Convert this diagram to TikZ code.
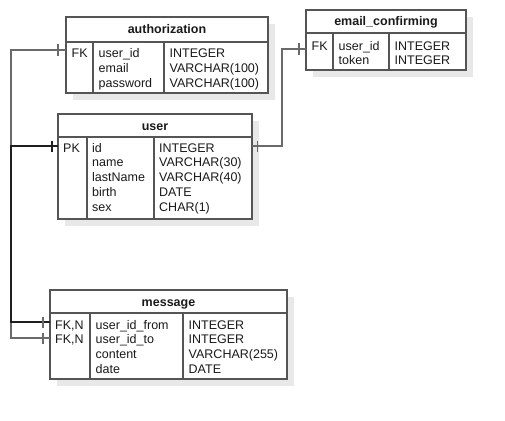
\documentclass[tikz,border=0pt]{standalone}
\usepackage{fontspec}
\setmainfont{Liberation Sans}
\definecolor{bordc}{HTML}{555555}
\definecolor{linec}{HTML}{6A6A6A}
\definecolor{darkc}{HTML}{1E1E1E}
\definecolor{txtc}{HTML}{1A1A1A}
\definecolor{shadc}{HTML}{E8E8E8}
\newcommand\fsz{\fontsize{12.5}{15}\selectfont}
\tikzset{
  tbl/.style={draw=bordc, line width=1.3pt, fill=white, inner sep=0pt, outer sep=0pt},
  bord/.style={draw=bordc, line width=1.3pt},
  txt/.style={anchor=base west, inner sep=0pt, font=\fsz, text=txtc},
  hdr/.style={anchor=base, inner sep=0pt, font=\fsz\bfseries, text=txtc},
  conn/.style={draw=linec, line width=1.3pt},
  dconn/.style={draw=darkc, line width=1.5pt},
}
% #1 name, #2 x1, #3 y1, #4 yh, #5 x2, #6 y2, #7 d1, #8 d2
\newcommand{\erdbox}[8]{%
  \fill[shadc] (#2+7,#3+7) rectangle (#5+7,#6+7);
  \node[tbl, anchor=north west, minimum width={#5-#2}, minimum height={#6-#3}] (#1) at (#2,#3) {};
  \draw[bord] (#2,#4) -- (#5,#4);
  \draw[bord] (#7,#4) -- (#7,#6);
  \draw[bord] (#8,#4) -- (#8,#6);
}
\begin{document}
\begin{tikzpicture}[x=1pt,y=-1pt]
\useasboundingbox (0,0) rectangle (505,420);

% ---------- tables ----------
\erdbox{auth}{66}{17}{42}{268}{93}{93}{164}
\node[hdr] (auth-t) at (167,34) {authorization};
\node[txt] (auth-k1) at (71.5,57) {FK};
\foreach \t [count=\i] in {user\_id, email, password}
  \node[txt] (auth-n\i) at (98.5,57+15*\i-15) {\t};
\foreach \t [count=\i] in {INTEGER, VARCHAR(100), VARCHAR(100)}
  \node[txt] (auth-y\i) at (169.5,57+15*\i-15) {\t};

\erdbox{email}{306}{10}{33}{466}{70}{333}{389}
\node[hdr] (email-t) at (386,26) {email\_confirming};
\node[txt] (email-k1) at (311.5,50) {FK};
\foreach \t [count=\i] in {user\_id, token}
  \node[txt] (email-n\i) at (338.5,50+14.8*\i-14.8) {\t};
\foreach \t [count=\i] in {INTEGER, INTEGER}
  \node[txt] (email-y\i) at (394.5,50+14.8*\i-14.8) {\t};

\erdbox{user}{58}{114}{137}{252}{219}{87}{154}
\node[hdr] (user-t) at (155,130) {user};
\node[txt] (user-k1) at (63,152) {PK};
\foreach \t [count=\i] in {id, name, lastName, birth, sex}
  \node[txt] (user-n\i) at (92,152+14.8*\i-14.8) {\t};
\foreach \t [count=\i] in {INTEGER, VARCHAR(30), VARCHAR(40), DATE, CHAR(1)}
  \node[txt] (user-y\i) at (159,152+14.8*\i-14.8) {\t};

\erdbox{message}{50}{290}{313}{287}{379}{90}{183}
\node[hdr] (message-t) at (168.5,306) {message};
\node[txt] (message-k1) at (55,329) {FK,N};
\node[txt] (message-k2) at (55,343.7) {FK,N};
\foreach \t [count=\i] in {user\_id\_from, user\_id\_to, content, date}
  \node[txt] (message-n\i) at (95.5,329+14.7*\i-14.7) {\t};
\foreach \t [count=\i] in {INTEGER, INTEGER, VARCHAR(255), DATE}
  \node[txt] (message-y\i) at (188.5,329+14.7*\i-14.7) {\t};

% ---------- connector anchors ----------
\coordinate (afk) at (66,50);
\coordinate (efk) at (306,49);
\coordinate (upk) at (58,146);
\coordinate (upr) at (252,146);
\coordinate (mfk1) at (50,322);
\coordinate (mfk2) at (50,338);
\coordinate (lbend) at (11,200);
\coordinate (ebend) at (282,100);

% ---------- connectors ----------
\draw[conn] (auth.west |- afk) -| (lbend) |- (user.west |- upk);
\draw[conn] (message.west |- mfk2) -| (lbend) |- (user.west |- upk);
\draw[conn] (email.west |- efk) -| (ebend) |- (user.east |- upr);
\draw[dconn] (message.west |- mfk1) -| (lbend) |- (user.west |- upk);

% ---------- one-mandatory ticks ----------
\draw[conn] ([xshift=-8pt,yshift=5.5pt]afk) -- ([xshift=-8pt,yshift=-5.5pt]afk);
\draw[conn] ([xshift=-7pt,yshift=5.5pt]efk) -- ([xshift=-7pt,yshift=-5.5pt]efk);
\draw[conn] ([xshift=5.5pt,yshift=5.5pt]upr) -- ([xshift=5.5pt,yshift=-5.5pt]upr);
\draw[dconn] ([xshift=-6pt,yshift=5.5pt]upk) -- ([xshift=-6pt,yshift=-5.5pt]upk);
\draw[conn] ([xshift=-7pt,yshift=5.5pt]mfk1) -- ([xshift=-7pt,yshift=-5.5pt]mfk1);
\draw[conn] ([xshift=-7pt,yshift=5.5pt]mfk2) -- ([xshift=-7pt,yshift=-5.5pt]mfk2);
\end{tikzpicture}
\end{document}
